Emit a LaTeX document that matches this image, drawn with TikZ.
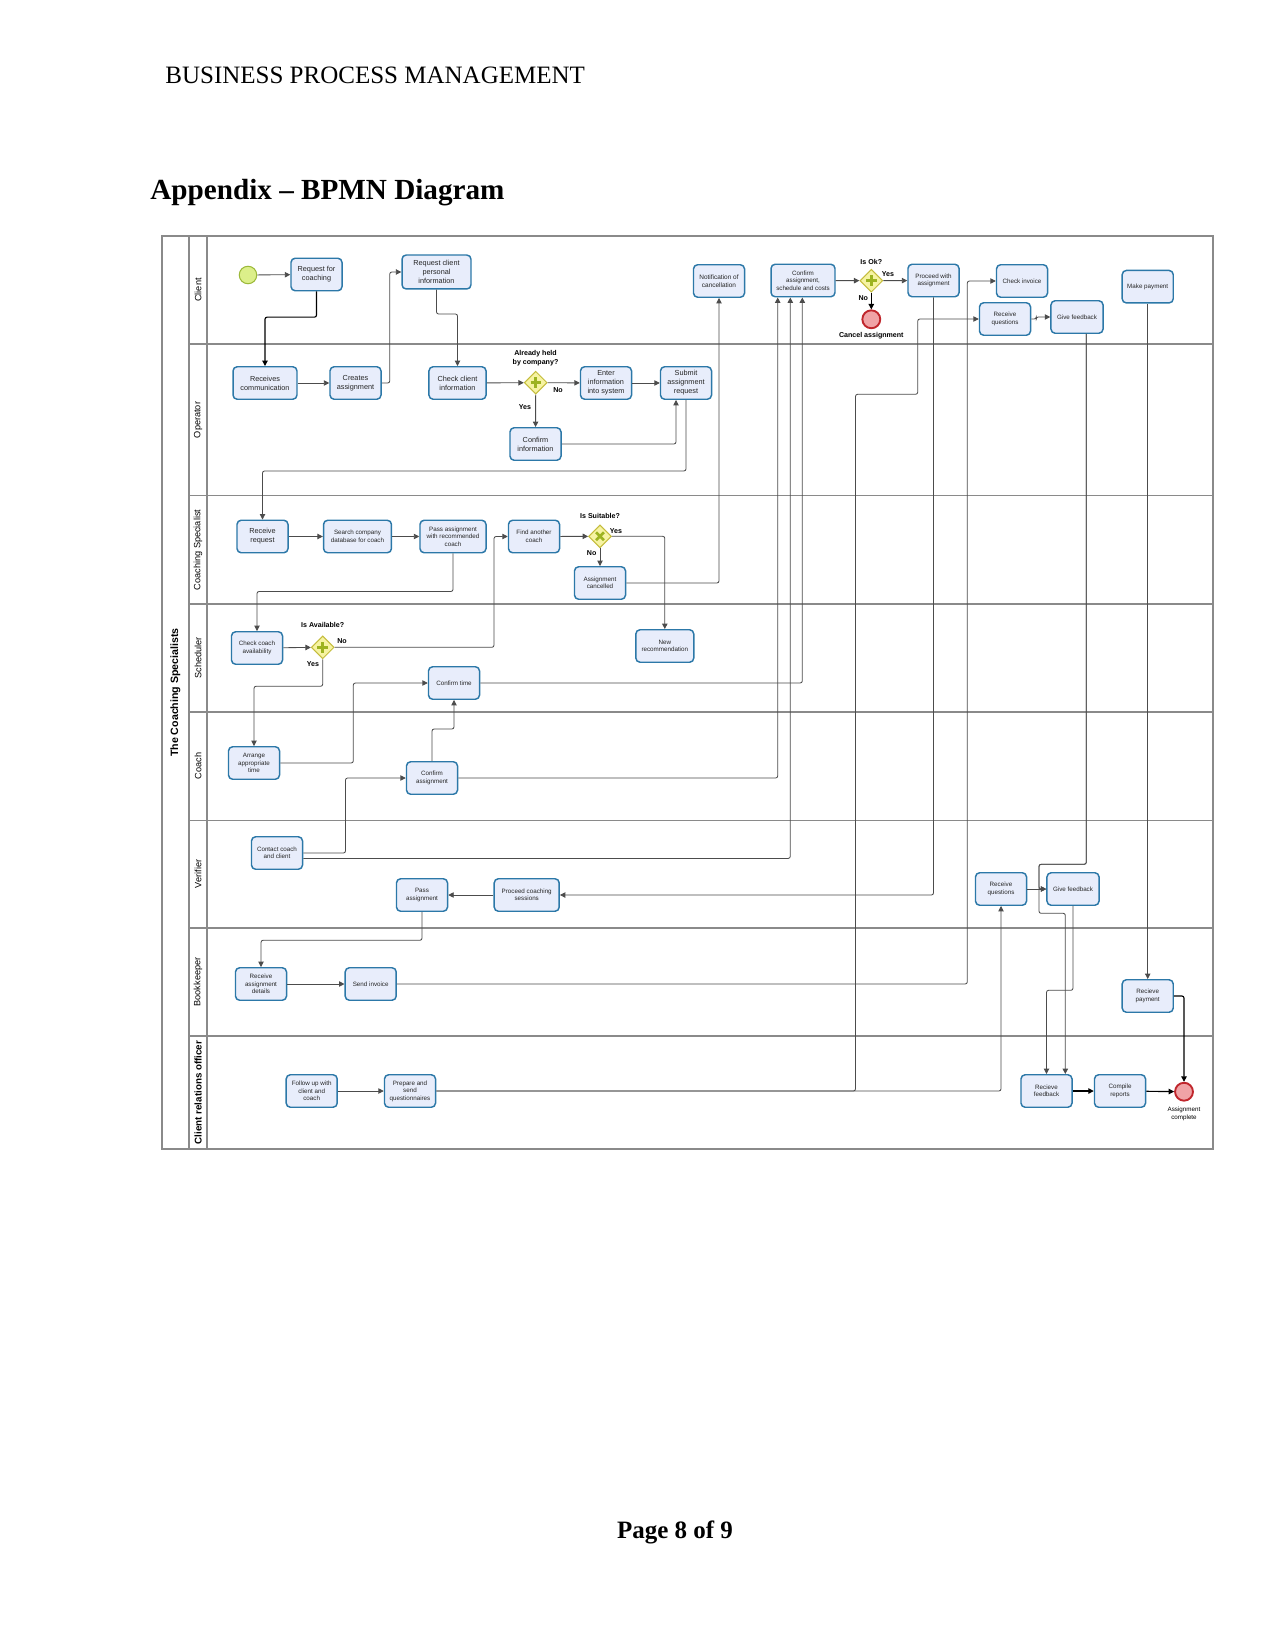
\documentclass[tikz,border=0pt]{standalone}
\usepackage{fontspec}
\setmainfont{Liberation Serif}
\newfontfamily\diafont{Liberation Sans}
\usetikzlibrary{arrows.meta,shapes.geometric}
\definecolor{bpTaskFill}{HTML}{E8EDFB}
\definecolor{bpTaskLine}{HTML}{2C78A8}
\definecolor{bpGateFill}{HTML}{F6F3A2}
\definecolor{bpGateLine}{HTML}{C4BC3C}
\definecolor{bpGateMark}{HTML}{9DB320}
\definecolor{bpStartFill}{HTML}{DCEF8A}
\definecolor{bpStartLine}{HTML}{9CB93A}
\definecolor{bpEndFill}{HTML}{F0A3A6}
\definecolor{bpEndLine}{HTML}{C0262C}
\definecolor{bpLane}{HTML}{8A8A8A}
\tikzset{
  task/.style={draw=bpTaskLine,fill=bpTaskFill,rounded corners=2pt,line width=0.7pt,
    minimum width=24.5pt,minimum height=15.6pt,inner sep=0.5pt,align=center,
    text=black!85,font=\diafont\fontsize{3}{3.6}\selectfont},
  bigtask/.style={task,font=\diafont\fontsize{3.5}{4.3}\selectfont},
  gate/.style={diamond,draw=bpGateLine,fill=bpGateFill,line width=0.5pt,
    minimum width=11pt,minimum height=11pt,inner sep=0pt},
  startev/.style={circle,draw=bpStartLine,fill=bpStartFill,line width=0.5pt,minimum size=8.4pt,inner sep=0pt},
  endev/.style={circle,draw=bpEndLine,fill=bpEndFill,line width=0.9pt,minimum size=8.6pt,inner sep=0pt},
  flow/.style={draw=black!70,line width=0.4pt,rounded corners=1pt,-{Triangle[length=2.6pt,width=2.6pt]}},
  strongflow/.style={flow,draw=black,line width=0.55pt},
  gatelbl/.style={font=\diafont\bfseries\fontsize{3.4}{4.6}\selectfont,align=center,inner sep=0pt},
  lanelbl/.style={rotate=90,font=\diafont\fontsize{4.4}{5}\selectfont,inner sep=0pt},
  lane/.style={draw=bpLane,line width=0.6pt}
}
\newcommand{\gateplus}[1]{\draw[bpGateMark,line width=1.3pt]
  ([xshift=-2.5pt]#1.center) -- ([xshift=2.5pt]#1.center)
  ([yshift=-2.5pt]#1.center) -- ([yshift=2.5pt]#1.center);}
\newcommand{\gatecross}[1]{\draw[bpGateMark,line width=1.3pt]
  ([shift={(-1.9pt,-1.9pt)}]#1.center) -- ([shift={(1.9pt,1.9pt)}]#1.center)
  ([shift={(-1.9pt,1.9pt)}]#1.center) -- ([shift={(1.9pt,-1.9pt)}]#1.center);}

\begin{document}
\begin{tikzpicture}[x=0.48pt,y=-0.48pt]
  \fill[white] (0,0) rectangle (1275,1650);
  \useasboundingbox (0,0) rectangle (1275,1650);

  % page text
  \node[anchor=west,inner sep=0pt,font=\fontsize{12}{14}\selectfont] (header) at (165,75) {BUSINESS PROCESS MANAGEMENT};
  \node[anchor=west,inner sep=0pt,font=\bfseries\fontsize{14}{17}\selectfont] (title) at (150,193) {Appendix – BPMN Diagram};
  \node[inner sep=0pt,font=\bfseries\fontsize{12}{14}\selectfont] (pagenum) at (675,1532) {Page 8 of 9};

  % pool and lanes
  \draw[lane] (162,236) rectangle (1213,1149);
  \draw[lane] (189,236) -- (189,1149);
  \draw[lane] (207,236) -- (207,1149);
  \foreach \y in {344,495.5,604,712,820.5,928,1036}
    \draw[lane] (189,\y) -- (1213,\y);
  \node[rotate=90,inner sep=0pt,font=\diafont\bfseries\fontsize{5.1}{6}\selectfont] (pool) at (175.5,692.5) {The Coaching Specialists};
  \foreach \lbl/\yc [count=\i] in {Client/290,Operator/420,Coaching Specialist/550,Scheduler/658,Coach/766,Verifier/874,Bookkeeper/982}
    \node[lanelbl] (lane\i) at (198,\yc) {\lbl};
  \node[lanelbl,font=\diafont\bfseries\fontsize{4.7}{5.5}\selectfont] (lane8) at (198,1092.5) {Client relations officer};

  % client
  \node[startev] (start) at (248,275) {};
  \node[bigtask] (reqcoach) at (316.5,274.5) {Request for\\coaching};
  \node[bigtask,minimum width=33.1pt,minimum height=16.3pt] (reqinfo) at (436.5,272) {Request client\\personal\\information};
  \node[task,font=\diafont\fontsize{3.1}{3.7}\selectfont] (notify) at (719,281) {Notification of\\cancellation};
  \node[task,minimum width=30.7pt] (confacc) at (803,280.5) {Confirm\\assignment,\\schedule and costs};
  \node[gate] (isok) at (871.3,280.7) {};
  \node[endev] (cancel) at (871.3,319.3) {};
  \node[task] (proceed) at (933.5,280.5) {Proceed with\\assignment};
  \node[task] (chkinv) at (1022,281) {Check invoice};
  \node[task] (rqclient) at (1005,319) {Receive\\questions};
  \node[task,minimum width=25pt] (fbclient) at (1077,317) {Give feedback};
  \node[task] (mkpay) at (1147.7,286.7) {Make payment};

  % operator
  \node[bigtask,minimum width=30.7pt] (recvcomm) at (265,383) {Receives\\communication};
  \node[bigtask] (creates) at (355.5,383) {Creates\\assignment};
  \node[bigtask,minimum width=27.4pt] (chkclient) at (457.5,383) {Check client\\information};
  \node[gate] (held) at (535.7,382.7) {};
  \node[bigtask] (enter) at (606,383) {Enter\\information\\into system};
  \node[bigtask] (submit) at (686,383) {Submit\\assignment\\request};
  \node[bigtask] (confinfo) at (535.5,444) {Confirm\\information};

  % coaching specialist
  \node[bigtask] (recvreq) at (262.5,536.5) {Receive\\request};
  \node[task,minimum width=32.6pt] (search) at (357.5,536.5) {Search company\\database for coach};
  \node[task,minimum width=31.7pt] (passrec) at (453,536.5) {Pass assignment\\with recommended\\coach};
  \node[task] (another) at (534,536.5) {Find another\\coach};
  \node[gate] (suitable) at (600,536.3) {};
  \node[task] (cancelled) at (600,583) {Assignment\\cancelled};

  % scheduler
  \node[task] (chkcoach) at (257,648) {Check coach\\availability};
  \node[gate] (avail) at (322.7,647.3) {};
  \node[task,minimum width=27.8pt] (newrec) at (664.8,646) {New\\recommendation};
  \node[task] (conftime) at (454,683) {Confirm time};

  % coach
  \node[task] (arrange) at (254,763) {Arrange\\appropriate\\time};
  \node[task] (confasg) at (432,778) {Confirm\\assignment};

  % verifier
  \node[task] (contact) at (277,853) {Contact coach\\and client};
  \node[task] (passasg) at (422,895) {Pass\\assignment};
  \node[task,minimum width=31.2pt] (sessions) at (526.7,895) {Proceed coaching\\sessions};
  \node[task] (rqverif) at (1001,889) {Receive\\questions};
  \node[task,minimum width=25pt] (fbverif) at (1073,889) {Give feedback};

  % bookkeeper
  \node[task] (details) at (261,984) {Receive\\assignment\\details};
  \node[task] (sendinv) at (370.7,984) {Send invoice};
  \node[task] (rcvpay) at (1147.7,996) {Recieve\\payment};

  % client relations officer
  \node[task] (followup) at (311.7,1091) {Follow up with\\client and\\coach};
  \node[task] (prepare) at (410,1091) {Prepare and\\send\\questionnaires};
  \node[task] (rcvfb) at (1046.5,1091) {Recieve\\feedback};
  \node[task] (compile) at (1120,1091) {Compile\\reports};
  \node[endev] (done) at (1184,1091.7) {};

  \gateplus{held}
  \gateplus{avail}
  \gateplus{isok}
  \gatecross{suitable}

  % gateway and event labels
  \node[gatelbl] (heldq) at (535.5,358) {Already held\\by company?};
  \node[gatelbl] (heldy) at (525,407) {Yes};
  \node[gatelbl] (heldn) at (558,390) {No};
  \node[gatelbl] (isokq) at (871.3,261.7) {Is Ok?};
  \node[gatelbl] (isoky) at (888,274) {Yes};
  \node[gatelbl] (isokn) at (863.3,297.7) {No};
  \node[gatelbl] (cancellbl) at (871.3,335.3) {Cancel assignment};
  \node[gatelbl] (suitq) at (600,516) {Is Suitable?};
  \node[gatelbl] (suity) at (616,531) {Yes};
  \node[gatelbl] (suitn) at (591.7,553.3) {No};
  \node[gatelbl] (availq) at (322.7,625.3) {Is Available?};
  \node[gatelbl] (availn) at (342,641) {No};
  \node[gatelbl] (availy) at (313,663.7) {Yes};
  \node[align=center,inner sep=0pt,font=\diafont\fontsize{3}{3.7}\selectfont] (donelbl) at (1184,1114) {Assignment\\complete};

  % flows
  \draw[flow] (start) -- (reqcoach);
  \draw[strongflow] (reqcoach.south) -- ++(0,25.7) -| (recvcomm.north);
  \draw[flow] (recvcomm) -- (creates);
  \draw[flow] (creates.east) -- ++(8,0) |- (reqinfo.west);
  \draw[flow] (reqinfo.south) -- ++(0,24.3) -| (chkclient.north);
  \draw[flow] (chkclient) -- (held);
  \draw[flow] (held) -- (enter);
  \draw[flow] (held) -- (confinfo);
  \draw[flow] (enter) -- (submit);
  \draw[flow] (confinfo.east) -| (676,0 |- submit.south);
  \draw[flow] (submit.south) -- ++(0,71) -| (recvreq.north);
  \draw[flow] (recvreq) -- (search);
  \draw[flow] (search) -- (passrec);
  \draw[flow] (passrec.south) -- ++(0,38) -| (chkcoach.north);
  \draw[flow] (chkcoach) -- (avail);
  \draw[flow] (avail.east) -- (494,0 |- avail.east) |- (another.west);
  \draw[flow] (another) -- (suitable);
  \draw[flow] (suitable) -- (cancelled);
  \draw[flow] (suitable.east) -| (newrec.north);
  \draw[flow] (cancelled.east) -| (notify.south);
  \draw[flow] (avail.south) -- ++(0,27) -| (arrange.north);
  \draw[flow] (arrange.east) -- (353.3,0 |- arrange.east) |- (conftime.west);
  \draw[flow] (confasg.north) -- ++(0,-32) -| (conftime.south);
  \draw[flow] (contact.east) -- (345.5,0 |- contact.east) |- (confasg.west);
  \draw[flow] ([yshift=-2.6pt]contact.east) -| (790.3,0 |- confacc.south);
  \draw[flow] (confasg.east) -| (777.7,0 |- confacc.south);
  \draw[flow] (conftime.east) -| (802.3,0 |- confacc.south);
  \draw[flow] (confacc) -- (isok);
  \draw[flow] (isok) -- (proceed);
  \draw[strongflow] (isok) -- (cancel);
  \draw[flow] (proceed.south) |- (sessions.east);
  \draw[flow] (sessions) -- (passasg);
  \draw[flow] (passasg.south) -- ++(0,28.3) -| (details.north);
  \draw[flow] (details) -- (sendinv);
  \draw[flow] (sendinv.east) -- (967.3,0 |- sendinv.east) |- (chkinv.west);
  \draw[flow] (followup) -- (prepare);
  \draw[flow] (prepare.east) -- (855.5,0 |- prepare.east) -- (855.5,394.3) -| (917.7,0 |- rqclient.west) -- (rqclient.west);
  \draw[flow] (prepare.east) -| (rqverif.south);
  \draw[flow] (rqclient.east) -- ++(5,0) |- (fbclient.west);
  \draw[flow] (1086.3,0 |- fbclient.south) |- (1039,864.3) |- (fbverif.west);
  \draw[flow] (1086.3,0 |- fbclient.south) |- (1039,864.3) |- (1065.3,913.3) -- (1065.3,0 |- rcvfb.north);
  \draw[flow] (rqverif) -- (fbverif);
  \draw[flow] (fbverif.south) -- ++(0,84.3) -| (rcvfb.north);
  \draw[flow] (mkpay) -- (rcvpay);
  \draw[strongflow] (rcvpay.east) -| (done.north);
  \draw[strongflow] (rcvfb) -- (compile);
  \draw[strongflow] (compile) -- (done);
\end{tikzpicture}
\end{document}
